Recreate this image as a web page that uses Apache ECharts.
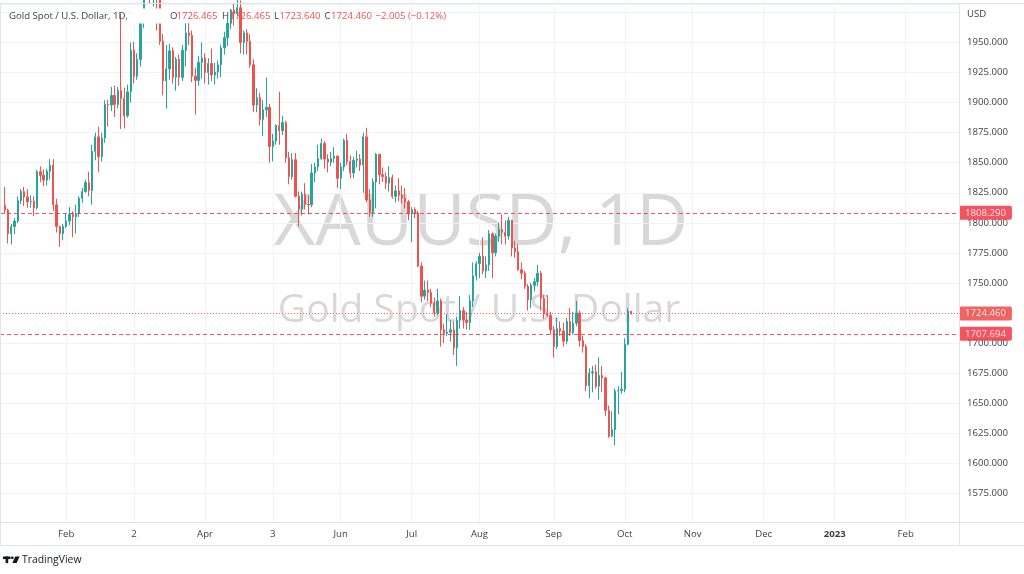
<!DOCTYPE html>
<html><head><meta charset="utf-8">
<script src="https://cdn.jsdelivr.net/npm/echarts@6/dist/echarts.min.js"></script>
<style>html,body{margin:0;padding:0;background:#fff}#c{width:1024px;height:574px}</style>
</head><body><div id="c"></div>
<script>
// ---- data: daily XAUUSD candles [open, high, low, close] ----
const jan = [
[1814.6,1829.8,1807.6,1810.5],[1810.5,1811.8,1782.8,1791.0],[1791.0,1799.0,1782.0,1797.0],[1797.0,1804.0,1790.5,1801.5],
[1801.5,1822.0,1800.0,1818.5],[1818.5,1828.0,1815.5,1826.0],[1826.0,1830.0,1814.0,1821.5],[1821.5,1828.0,1812.5,1817.5],
[1817.5,1823.0,1812.5,1818.0],[1818.0,1822.0,1805.5,1812.5],[1812.5,1844.0,1811.0,1842.5],[1842.5,1847.0,1834.0,1839.5],
[1839.5,1844.5,1830.5,1835.5],[1835.5,1845.0,1831.0,1843.0],[1843.0,1853.0,1836.0,1848.0],[1848.0,1853.0,1810.0,1815.0],
[1815.0,1820.0,1792.0,1797.0],[1797.0,1797.5,1780.0,1791.0],[1791.0,1799.0,1785.5,1797.0]];
const feb = [
[1797.0,1807.5,1795.5,1801.5],[1801.5,1813.0,1798.0,1807.0],[1807.0,1809.5,1788.0,1805.0],[1805.0,1815.0,1791.0,1807.5],
[1807.5,1822.0,1805.0,1820.5],[1820.5,1829.0,1816.5,1826.0],[1826.0,1836.0,1825.0,1833.5],[1833.5,1842.5,1822.0,1827.0],
[1827.0,1865.0,1815.0,1859.5],[1859.5,1875.0,1852.0,1871.5],[1871.5,1880.0,1842.0,1855.0],[1855.0,1875.0,1851.0,1870.5],
[1870.5,1902.0,1866.5,1898.5],[1898.5,1902.5,1880.0,1898.0],[1898.0,1913.0,1893.0,1906.0],[1906.0,1914.0,1888.0,1898.5],
[1898.5,1913.0,1895.0,1910.0],[1910.0,1974.0,1878.0,1903.5],[1903.5,1912.5,1878.5,1889.0],[1889.0,1915.0,1887.5,1909.0]];
const mar = [
[1909.0,1950.0,1900.0,1943.5],[1943.5,1950.5,1916.0,1922.0],[1922.0,1941.0,1919.0,1936.0],[1936.0,1974.0,1930.0,1966.5],
[1966.5,2002.0,1962.0,1998.0],[1998.0,2070.0,1988.0,2050.0],[2050.0,2057.0,1982.0,1992.0],[1992.0,2008.0,1980.0,2000.0],
[2000.0,2010.0,1960.0,1988.0],[1988.0,1990.0,1948.0,1951.0],[1951.0,1957.0,1906.0,1918.0],[1918.0,1948.0,1895.0,1928.0],
[1928.0,1949.0,1919.0,1943.0],[1943.0,1946.0,1916.0,1921.0],[1921.0,1938.0,1910.0,1936.0],[1936.0,1940.0,1914.0,1921.0],
[1921.0,1948.0,1918.0,1943.5],[1943.5,1966.0,1930.0,1958.0],[1958.0,1966.0,1948.0,1956.0],[1956.0,1960.0,1917.0,1922.0],
[1922.0,1929.0,1890.0,1918.5],[1918.5,1939.0,1914.0,1933.5],[1933.5,1950.0,1920.0,1937.0]];
const apr = [
[1937.0,1941.0,1916.0,1925.0],[1925.0,1937.0,1915.0,1932.5],[1932.5,1945.0,1918.0,1923.0],[1923.0,1933.0,1915.0,1925.5],
[1925.5,1935.0,1920.0,1931.5],[1931.5,1948.0,1921.0,1945.5],[1945.5,1959.0,1940.0,1954.0],[1954.0,1970.0,1947.0,1966.0],
[1966.0,1978.0,1961.0,1977.0],[1977.0,1982.0,1964.0,1974.0],[1974.0,1998.0,1972.0,1979.0],[1979.0,1985.0,1941.0,1950.0],
[1950.0,1960.0,1940.0,1958.0],[1958.0,1961.0,1940.0,1951.0],[1951.0,1957.0,1929.0,1931.5],[1931.5,1936.0,1892.0,1898.0],
[1898.0,1912.0,1892.0,1904.0],[1904.0,1908.0,1881.0,1886.0],[1886.0,1902.0,1872.0,1894.0],[1894.0,1921.0,1888.0,1896.0]];
const may = [
[1896.0,1899.0,1850.0,1863.5],[1863.5,1874.0,1851.0,1868.0],[1868.0,1882.0,1865.0,1881.0],[1881.0,1909.0,1865.0,1876.5],
[1876.5,1889.0,1873.0,1883.5],[1883.5,1885.0,1850.0,1854.0],[1854.0,1859.0,1832.0,1838.5],[1838.5,1858.0,1836.0,1852.5],
[1852.5,1858.0,1821.0,1822.0],[1822.0,1826.0,1797.0,1811.5],[1811.5,1826.0,1806.0,1824.0],[1824.0,1833.0,1811.0,1815.5],
[1815.5,1823.0,1807.0,1815.0],[1815.0,1849.0,1813.0,1841.5],[1841.5,1850.0,1834.0,1846.5],[1846.5,1865.0,1843.0,1853.5],
[1853.5,1870.0,1852.0,1866.0],[1866.0,1868.0,1845.0,1853.0],[1853.0,1857.0,1842.0,1850.5],[1850.5,1859.0,1847.0,1853.5],
[1853.5,1863.0,1850.0,1855.5],[1855.5,1856.0,1829.0,1837.0]];
const jun = [
[1837.0,1850.0,1828.0,1846.5],[1846.5,1870.0,1843.0,1868.5],[1868.5,1874.0,1848.0,1851.0],[1851.0,1856.0,1837.0,1841.5],
[1841.5,1855.0,1837.0,1852.0],[1852.0,1860.0,1846.0,1853.0],[1853.0,1857.0,1843.0,1848.0],[1848.0,1875.0,1825.0,1871.5],
[1871.5,1879.0,1817.0,1819.0],[1819.0,1828.0,1805.0,1808.5],[1808.5,1837.0,1805.0,1834.0],[1834.0,1858.0,1812.0,1857.0],
[1857.0,1857.5,1832.0,1840.0],[1840.0,1846.0,1834.0,1838.5],[1838.5,1842.0,1828.0,1833.0],[1833.0,1847.0,1826.0,1837.5],
[1837.5,1840.0,1820.0,1822.0],[1822.0,1831.0,1817.0,1826.5],[1826.5,1837.0,1818.0,1823.0],[1823.0,1831.0,1816.0,1820.5],
[1820.5,1829.0,1812.0,1817.5],[1817.5,1819.0,1802.0,1807.5]];
const jul = [
[1807.5,1813.0,1784.0,1811.0],[1811.0,1813.0,1804.0,1808.0],[1808.0,1810.0,1763.0,1764.0],[1764.0,1767.0,1734.0,1739.0],
[1739.0,1752.0,1736.0,1744.0],[1744.0,1752.0,1735.0,1742.0],[1742.0,1745.0,1730.0,1733.0],[1733.0,1738.0,1722.0,1725.0],
[1725.0,1745.0,1723.0,1735.0],[1735.0,1737.0,1697.0,1711.0],[1711.0,1716.0,1700.0,1708.0],[1708.0,1724.0,1706.0,1709.0],
[1709.0,1719.0,1701.0,1711.0],[1711.0,1718.0,1690.0,1696.0],[1696.0,1722.0,1681.0,1719.0],[1719.0,1739.0,1712.0,1727.0],
[1727.0,1730.0,1712.0,1719.0],[1719.0,1726.0,1711.0,1717.0],[1717.0,1740.0,1711.0,1735.0],[1735.0,1767.0,1730.0,1756.0],
[1756.0,1768.0,1752.0,1766.0]];
const aug = [
[1766.0,1775.0,1754.0,1772.0],[1772.0,1788.0,1757.0,1760.0],[1760.0,1772.0,1754.0,1765.0],[1765.0,1794.0,1760.0,1791.0],
[1791.0,1792.0,1754.0,1775.0],[1775.0,1791.0,1772.0,1789.0],[1789.0,1800.0,1784.0,1794.5],[1794.5,1807.0,1782.0,1792.0],
[1792.0,1802.0,1782.0,1789.0],[1789.0,1805.0,1786.0,1802.0],[1802.0,1802.5,1772.0,1779.0],[1779.0,1785.0,1771.0,1776.0],
[1776.0,1782.0,1760.0,1761.0],[1761.0,1767.0,1753.0,1758.0],[1758.0,1760.0,1745.0,1747.0],[1747.0,1749.0,1727.0,1736.0],
[1736.0,1750.0,1729.0,1748.0],[1748.0,1754.0,1743.0,1751.0],[1751.0,1765.0,1747.0,1758.0],[1758.0,1760.0,1727.0,1737.0],
[1737.0,1740.0,1720.0,1724.0],[1724.0,1740.0,1722.0,1723.0],[1723.0,1726.0,1707.0,1711.0]];
const sep = [
[1711.0,1714.0,1688.0,1697.0],[1697.0,1721.0,1695.0,1712.0],[1712.0,1718.0,1706.0,1710.0],[1710.0,1717.0,1697.0,1701.5],
[1701.5,1721.0,1699.0,1718.0],[1718.0,1729.0,1706.0,1708.5],[1708.5,1726.0,1707.0,1716.5],[1716.5,1735.0,1714.0,1725.0],
[1725.0,1727.0,1697.0,1702.0],[1702.0,1706.0,1692.0,1697.0],[1697.0,1699.0,1660.0,1664.5],[1664.5,1679.0,1654.0,1675.0],
[1675.0,1681.0,1659.0,1676.0],[1676.0,1682.0,1662.0,1664.0],[1664.0,1688.0,1653.0,1673.0],[1673.0,1681.0,1659.0,1671.0],
[1671.0,1672.0,1639.0,1644.0],[1644.0,1648.0,1621.0,1622.5],[1622.5,1643.0,1621.5,1628.0],[1628.0,1662.0,1615.0,1660.0],
[1660.0,1664.0,1641.0,1660.5],[1660.5,1676.0,1658.0,1661.5]];
const oct = [
[1661.5,1704.0,1659.0,1699.0],[1699.0,1729.0,1698.0,1726.465],[1726.465,1726.465,1723.640,1724.460]];

// trading-day axis: weekdays from 2022-01-04 (Good Friday closed), incl. future days
const firstDay = '2022-01-04';
const closedDays = ['2022-04-15'];
const dayCount = 297;
// time-axis tick labels
const tickLabels = [
  ['2022-02-01','Feb'],['2022-03-02','2'],['2022-04-01','Apr'],['2022-05-03','3'],['2022-06-01','Jun'],
  ['2022-07-01','Jul'],['2022-08-01','Aug'],['2022-09-01','Sep'],['2022-10-03','Oct'],['2022-11-01','Nov'],
  ['2022-12-01','Dec'],['2023-01-02','2023'],['2023-02-01','Feb']];
// horizontal price levels
const levelLines = [1808.290, 1707.694];
const symbolName = 'XAUUSD, 1D';
const symbolDesc = 'Gold Spot / U.S. Dollar';

// ---- build ----
const categories = [];
{
  const d = new Date(firstDay + 'T00:00:00Z');
  while (categories.length < dayCount) {
    const wd = d.getUTCDay();
    const s = d.toISOString().slice(0,10);
    if (wd !== 0 && wd !== 6 && closedDays.indexOf(s) < 0) categories.push(s);
    d.setUTCDate(d.getUTCDate() + 1);
  }
}
const rows = [].concat(jan, feb, mar, apr, may, jun, jul, aug, sep, oct);
const candleData = ['-'].concat(rows.map(r => [r[0], r[3], r[2], r[1]]));
const last = rows[rows.length - 1];
const prevClose = rows[rows.length - 2][3];
const lastClose = last[3];
const labelMap = {};
tickLabels.forEach(t => { labelMap[t[0]] = t[1]; });

const FONT = "'Open Sans','Noto Sans',sans-serif";
const UP = '#26a69a', DOWN = '#ef5350';
const TXT = '#3d3f45', GRID = '#f0f3fa', BORDER = '#e0e3eb';
const fmt = v => v.toFixed(3);
const chg = lastClose - prevClose;
const chgStr = (chg < 0 ? '\u2212' : '+') + Math.abs(chg).toFixed(3) + ' (' + (chg < 0 ? '\u2212' : '+') + Math.abs(chg / prevClose * 100).toFixed(2) + '%)';
const valColor = lastClose < last[0] ? DOWN : UP;

const chart = echarts.init(document.getElementById('c'), null, {renderer: 'canvas'});
const hasLabel = (i) => labelMap[categories[i]] !== undefined;

const legendY = 16;
const legendFont = '9.6px ' + FONT;
const graphics = [
  // watermark
  {type:'text', z:-10, style:{text:symbolName, x:481, y:224, align:'center', verticalAlign:'middle', font:'72px ' + FONT, fill:'#d8d8d8'}},
  {type:'text', z:-10, style:{text:symbolDesc, x:479, y:311, align:'center', verticalAlign:'middle', font:'39px ' + FONT, fill:'#d8d8d8'}},
  // frame lines
  {type:'line', z:50, shape:{x1:0, y1:3.5, x2:1024, y2:3.5}, style:{stroke:BORDER, lineWidth:1}},
  {type:'line', z:50, shape:{x1:959.5, y1:3.5, x2:959.5, y2:545.5}, style:{stroke:BORDER, lineWidth:1}},
  {type:'line', z:50, shape:{x1:0, y1:522.5, x2:1024, y2:522.5}, style:{stroke:BORDER, lineWidth:1}},
  {type:'line', z:50, shape:{x1:0, y1:545.5, x2:1024, y2:545.5}, style:{stroke:BORDER, lineWidth:1}},
  {type:'line', z:50, shape:{x1:0.5, y1:3.5, x2:0.5, y2:545.5}, style:{stroke:BORDER, lineWidth:1}},
  // currency label
  {type:'text', z:60, style:{text:'USD', x:967, y:14, verticalAlign:'middle', font:'9.6px ' + FONT, fill:TXT}},
  // legend
  {type:'rect', z:90, shape:{x:133, y:8.5, width:36, height:15}, style:{fill:'#fff'}},
  {type:'text', z:100, style:{text:symbolDesc + ', 1D,', x:9, y:legendY, verticalAlign:'middle', font:legendFont, fill:TXT}},
  {type:'text', z:100, style:{text:'O', x:170, y:legendY, verticalAlign:'middle', font:legendFont, fill:TXT}},
  {type:'text', z:100, style:{text:fmt(last[0]), x:176.5, y:legendY, verticalAlign:'middle', font:legendFont, fill:valColor}},
  {type:'text', z:100, style:{text:'H', x:222, y:legendY, verticalAlign:'middle', font:legendFont, fill:TXT}},
  {type:'text', z:100, style:{text:fmt(last[1]), x:229.5, y:legendY, verticalAlign:'middle', font:legendFont, fill:valColor}},
  {type:'text', z:100, style:{text:'L', x:274, y:legendY, verticalAlign:'middle', font:legendFont, fill:TXT}},
  {type:'text', z:100, style:{text:fmt(last[2]), x:279.5, y:legendY, verticalAlign:'middle', font:legendFont, fill:valColor}},
  {type:'text', z:100, style:{text:'C', x:324.5, y:legendY, verticalAlign:'middle', font:legendFont, fill:TXT}},
  {type:'text', z:100, style:{text:fmt(last[3]), x:331, y:legendY, verticalAlign:'middle', font:legendFont, fill:valColor}},
  {type:'text', z:100, style:{text:chgStr, x:375.5, y:legendY, verticalAlign:'middle', font:legendFont, fill:valColor}},
  // TradingView logo
  {type:'rect', z:100, shape:{x:3, y:556.5, width:7.5, height:2.6}, style:{fill:'#131722'}},
  {type:'rect', z:100, shape:{x:5.6, y:556.5, width:2.6, height:6.6}, style:{fill:'#131722'}},
  {type:'circle', z:100, shape:{cx:12.3, cy:557.8, r:1.4}, style:{fill:'#131722'}},
  {type:'polygon', z:100, shape:{points:[[15.2,556.5],[19.6,556.5],[16.6,563.1],[12.4,563.1]]}, style:{fill:'#131722'}},
  {type:'text', z:100, style:{text:'TradingView', x:22, y:560, verticalAlign:'middle', font:'10.4px ' + FONT, fill:'#131722'}}
];

const lineItem = (v, dash, color, op) => ({
  yAxis: v, name: fmt(v),
  lineStyle: {type: dash, color: color, width: 1, opacity: op},
  label: {backgroundColor: color}
});

const option = {
  animation: false,
  backgroundColor: '#ffffff',
  grid: {left: 0, right: 65, top: 4, bottom: 52, containLabel: false},
  xAxis: {
    type: 'category', data: categories, boundaryGap: true,
    axisLine: {show: true, lineStyle: {color: BORDER}},
    axisTick: {show: false},
    axisLabel: {
      interval: (i) => hasLabel(i),
      formatter: (v) => { const t = labelMap[v]; if (t === undefined) return ''; return /^\d{4}$/.test(t) ? '{b|' + t + '}' : t; },
      color: TXT, fontSize: 9.6, fontFamily: FONT, margin: 7,
      rich: {b: {fontWeight: 'bold', fontSize: 9.6, fontFamily: FONT, color: TXT}}
    },
    splitLine: {show: true, interval: (i) => hasLabel(i), alignWithLabel: true, lineStyle: {color: GRID, width: 1}}
  },
  yAxis: {
    type: 'value', position: 'right', min: 1551.1, max: 1982.03,
    minInterval: 25, maxInterval: 25, splitNumber: 17,
    axisLine: {show: false}, axisTick: {show: false},
    axisLabel: {color: TXT, fontSize: 9.6, fontFamily: FONT, margin: 8, showMinLabel: false, showMaxLabel: false,
      formatter: (v) => v > 1960 ? '' : v.toFixed(3)},
    splitLine: {show: true, lineStyle: {color: GRID, width: 1}}
  },
  series: [
    {
      type: 'candlestick', name: 'XAUUSD', data: candleData, barWidth: 1.8, clip: true, silent: true, z: 3,
      itemStyle: {color: UP, color0: DOWN, borderColor: UP, borderColor0: DOWN, borderWidth: 1}
    },
    {
      type: 'line', name: 'levels', data: [], clip: false, silent: true, z: 4,
      markLine: {
        silent: true, symbol: ['none', 'none'], animation: false,
        label: {show: true, position: 'end', distance: 0, color: '#fff', fontSize: 9.6, fontFamily: FONT,
          padding: [2, 6, 2, 6], borderRadius: 2, formatter: '{b}'},
        data: [
          lineItem(levelLines[0], [4, 3], '#f23645', 0.85),
          lineItem(levelLines[1], [4, 3], '#f23645', 0.85),
          lineItem(lastClose, [1, 2], '#ef5350', 0.9)
        ]
      }
    }
  ],
  graphic: {elements: graphics}
};
chart.setOption(option);
</script>
</body></html>
